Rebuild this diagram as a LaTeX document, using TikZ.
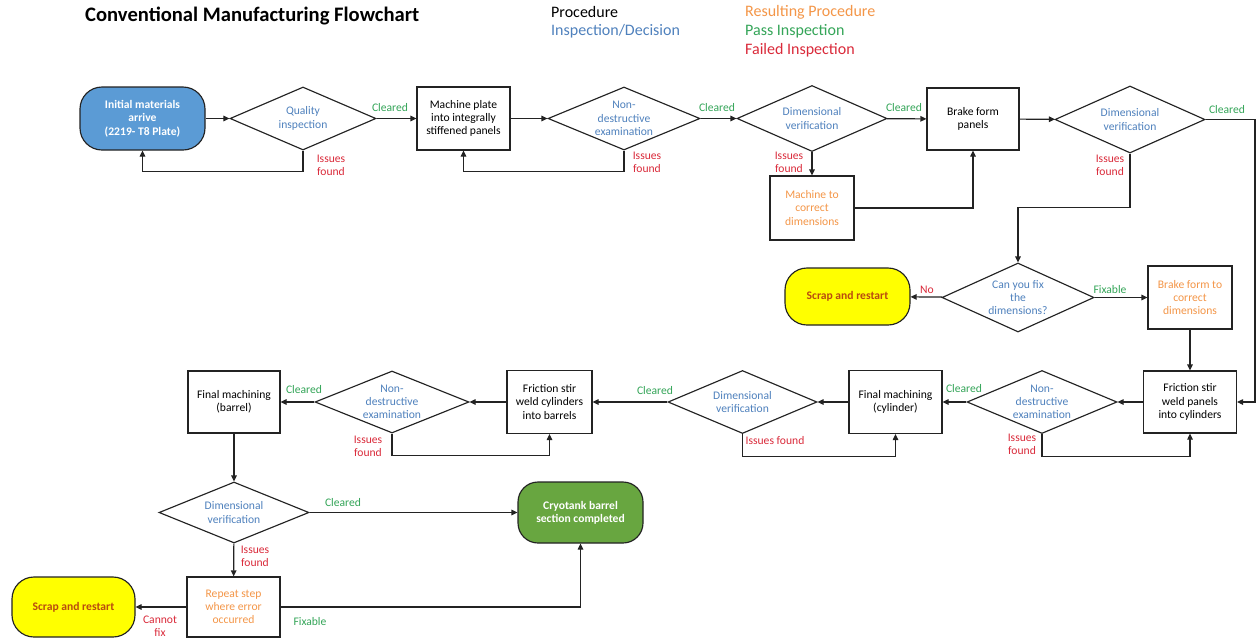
\documentclass[tikz,border=0pt]{standalone}
\usepackage{fontspec}
\setmainfont{Carlito}
\usetikzlibrary{shapes.geometric,arrows.meta}

\definecolor{ln}{RGB}{35,35,35}
\definecolor{insp}{RGB}{79,129,189}
\definecolor{resl}{RGB}{244,150,72}
\definecolor{pass}{RGB}{52,165,88}
\definecolor{fail}{RGB}{218,42,58}
\definecolor{startblue}{RGB}{91,155,213}
\definecolor{donegreen}{RGB}{104,166,64}
\definecolor{scrapyel}{RGB}{255,255,0}
\definecolor{scraptxt}{RGB}{185,75,15}

\newcommand{\txtsize}{\fontsize{11.6}{13.3}\selectfont}

\tikzset{
  base/.style={inner sep=0pt, align=center, font=\txtsize, line width=1.15pt, draw=ln},
  proc/.style={base, rectangle, fill=white},
  dia/.style={base, diamond, fill=white},
  dtxt/.style={inner sep=0pt, align=center, font=\txtsize, text=insp},
  term/.style={base, rectangle, rounded corners=22pt, font=\txtsize\bfseries},
  arr/.style={line width=1.15pt, draw=ln, -{Triangle[length=6pt,width=5.5pt]}},
  lab/.style={inner sep=0pt, align=center, font=\txtsize},
  ok/.style={lab, text=pass},
  bad/.style={lab, text=fail},
  legend/.style={inner sep=0pt, anchor=west, font=\fontsize{16}{19}\selectfont}
}

\begin{document}
\begin{tikzpicture}[x=1pt, y=-1pt]
\useasboundingbox (0,0) rectangle (1256,638);
\fill[white] (0,0) rectangle (1256,638);

% title and key
\node[inner sep=0pt, anchor=west, font=\fontsize{20.6}{24}\selectfont\bfseries] (title) at (85,16) {Conventional Manufacturing Flowchart};
\node[legend] (kproc) at (551,12) {Procedure};
\node[legend, text=insp] (kinsp) at (551,31) {Inspection/Decision};
\node[legend, text=resl] (kres) at (745,12) {Resulting Procedure};
\node[legend, text=pass] (kpass) at (745,31) {Pass Inspection};
\node[legend, text=fail] (kfail) at (745,50) {Failed Inspection};

% ---- first row
\node[term, fill=startblue, text=white, minimum width=125pt, minimum height=63pt] (init) at (142.5,118.5) {Initial materials\\arrive\\(2219- T8 Plate)};
\node[dia, minimum width=146pt, minimum height=63pt] (q1) at (303,118.5) {};
\node[dtxt] (q1t) at (q1) {Quality\\inspection};
\node[proc, minimum width=93pt, minimum height=63pt] (mp) at (463.5,118.5) {Machine plate\\into integrally\\stiffened panels};
\node[dia, minimum width=152pt, minimum height=63pt] (nde1) at (624,118.5) {};
\node[dtxt] (nde1t) at (nde1) {Non-\\destructive\\examination};
\node[dia, minimum width=150pt, minimum height=66pt] (dv1) at (812,118.5) {};
\node[dtxt] (dv1t) at (dv1) {Dimensional\\verification};
\node[proc, text=resl, minimum width=84pt, minimum height=64pt] (mc) at (812,208) {Machine to\\correct\\dimensions};
\node[proc, minimum width=92pt, minimum height=62pt] (bf) at (973,119) {Brake form\\panels};
\node[dia, minimum width=150pt, minimum height=67pt] (dv2) at (1130,119.5) {};
\node[dtxt] (dv2t) at (dv2) {Dimensional\\verification};

% ---- fix decision
\node[dia, minimum width=152pt, minimum height=69pt] (fix) at (1018,297.5) {};
\node[dtxt] (fixt) at (fix) {Can you fix\\the\\dimensions?};
\node[term, fill=scrapyel, text=scraptxt, minimum width=125pt, minimum height=57pt] (scrap1) at (847.5,296.5) {Scrap and restart};
\node[proc, text=resl, minimum width=84pt, minimum height=63pt] (bfc) at (1190,297.5) {Brake form to\\correct\\dimensions};

% ---- third row
\node[proc, minimum width=93pt, minimum height=62pt] (fsp) at (1190,402) {Friction stir\\weld panels\\into cylinders};
\node[dia, minimum width=150pt, minimum height=63pt] (nde3) at (1042,402) {};
\node[dtxt] (nde3t) at (nde3) {Non-\\destructive\\examination};
\node[proc, minimum width=93pt, minimum height=63pt] (fmc) at (895.5,402) {Final machining\\(cylinder)};
\node[dia, minimum width=149pt, minimum height=63pt] (dv4) at (742.5,402) {};
\node[dtxt] (dv4t) at (dv4) {Dimensional\\verification};
\node[proc, minimum width=85pt, minimum height=63pt] (fsc) at (549.5,402) {Friction stir\\weld cylinders\\into barrels};
\node[dia, minimum width=154pt, minimum height=62pt] (nde2) at (392,402) {};
\node[dtxt] (nde2t) at (nde2) {Non-\\destructive\\examination};
\node[proc, minimum width=92pt, minimum height=62pt] (fmb) at (234,402) {Final machining\\(barrel)};

% ---- last row
\node[dia, minimum width=150pt, minimum height=61pt] (dv3) at (234,512.5) {};
\node[dtxt] (dv3t) at (dv3) {Dimensional\\verification};
\node[term, fill=donegreen, text=white, rounded corners=20pt, minimum width=125pt, minimum height=61pt] (cryo) at (580.5,512.5) {Cryotank barrel\\section completed};
\node[proc, text=resl, minimum width=93pt, minimum height=60pt] (rep) at (233.5,607) {Repeat step\\where error\\occurred};
\node[term, fill=scrapyel, text=scraptxt, minimum width=123pt, minimum height=60pt] (scrap2) at (73.5,607) {Scrap and restart};

% ---- connectors, first row
\draw[arr] (init) -- (q1);
\draw[arr] (q1) -- (mp);
\draw[arr] (q1.south) -- ++(0,21) -| (init.south);
\draw[arr] (mp) -- (nde1);
\draw[arr] (nde1.south) -- ++(0,21) -| (mp.south);
\draw[arr] (nde1) -- (dv1);
\draw[arr] (dv1) -- (bf);
\draw[arr] (dv1) -- (mc);
\draw[arr] (mc.east) -| (bf.south);
\draw[arr] (bf) -- (dv2);
\draw[arr] (dv2.south) -- ++(0,54) -| (fix.north);
\coordinate (redge) at (1255,119.5);
\draw[arr] (dv2.east) -- (redge) |- (fsp.east);

% ---- fix decision
\draw[arr] (fix) -- (scrap1);
\draw[arr] (fix) -- (bfc);
\draw[arr] (bfc) -- (fsp);

% ---- third row
\draw[arr] (fsp) -- (nde3);
\draw[arr] (nde3.south) -- ++(0,22) -| (fsp.south);
\draw[arr] (nde3) -- (fmc);
\draw[arr] (fmc) -- (dv4);
\draw[arr] (dv4.south) -- ++(0,22) -| (fmc.south);
\draw[arr] (dv4) -- (fsc);
\draw[arr] (fsc) -- (nde2);
\draw[arr] (nde2.south) -- ++(0,22) -| (fsc.south);
\draw[arr] (nde2) -- (fmb);
\draw[arr] (fmb) -- (dv3);

% ---- last row
\draw[arr] (dv3) -- (cryo);
\draw[arr] (dv3) -- (rep);
\draw[arr] (rep.east) -| (cryo.south);
\draw[arr] (rep) -- (scrap2);

% ---- outcome labels
\node[ok] (l1) at (390,108) {Cleared};
\node[bad] (l2) at (331,165) {Issues\\found};
\node[ok] (l3) at (717,108) {Cleared};
\node[bad] (l4) at (647,162) {Issues\\found};
\node[ok] (l5) at (904,108) {Cleared};
\node[bad] (l6) at (789,162) {Issues\\found};
\node[ok] (l7) at (1227,110) {Cleared};
\node[bad] (l8) at (1110,165) {Issues\\found};
\node[bad] (l9) at (927,290) {No};
\node[ok] (l10) at (1110,290) {Fixable};
\node[ok] (l11) at (964,389) {Cleared};
\node[bad] (l12) at (1022,444) {Issues\\found};
\node[ok] (l13) at (655,391) {Cleared};
\node[bad] (l14) at (775,441) {Issues found};
\node[ok] (l15) at (304,390) {Cleared};
\node[bad] (l16) at (368,446) {Issues\\found};
\node[ok] (l17) at (343,503) {Cleared};
\node[bad] (l18) at (255,556) {Issues\\found};
\node[ok] (l19) at (310,622) {Fixable};
\node[bad] (l20) at (160,626) {Cannot\\fix};
\end{tikzpicture}
\end{document}
